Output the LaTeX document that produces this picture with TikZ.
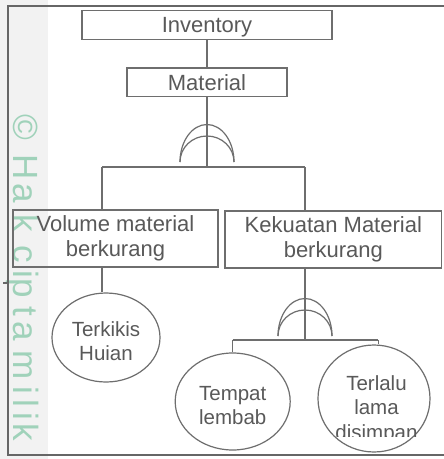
\documentclass[tikz,border=0pt]{standalone}
\usepackage{fontspec}
\setmainfont{Liberation Sans}
\usetikzlibrary{shapes.geometric}
\definecolor{linegray}{HTML}{6E6E6E}
\definecolor{textgray}{HTML}{595959}
\definecolor{framegray}{HTML}{666666}
\definecolor{stripgray}{HTML}{F2F2F2}
\definecolor{markgreen}{HTML}{A0D2BA}
\tikzset{
  conn/.style={draw=linegray, line width=1.2pt},
  box/.style={draw=linegray, line width=1.2pt, rectangle, inner sep=0pt,
    text=textgray, align=center, font=\fontsize{22}{25}\selectfont},
  oval/.style={draw=linegray, line width=1.2pt, ellipse, inner sep=0pt,
    text=textgray, align=center, font=\fontsize{20.5}{24}\selectfont},
  ovaltext/.style={inner sep=0pt, text=textgray, align=center,
    font=\fontsize{20.5}{24.5}\selectfont},
  wmark/.style={rotate=-90, anchor=base, inner sep=0pt, text=markgreen,
    font=\fontsize{35}{35}\selectfont},
  orgate/.pic={
    \draw[conn] (-27,0) .. controls (-27,-20.7) and (-14.9,-37.5) .. (0,-37.5)
                .. controls (14.9,-37.5) and (27,-20.7) .. (27,0);
    \draw[conn] (-27,0) .. controls (-27,-14.4) and (-14.9,-26) .. (0,-26)
                .. controls (14.9,-26) and (27,-14.4) .. (27,0);
  }
}
\begin{document}
\begin{tikzpicture}[x=1pt, y=-1pt]
  % page, margin strip and frame
  \useasboundingbox (0,0) rectangle (444,459);
  \fill[white] (0,0) rectangle (444,459);
  \fill[stripgray] (0,0) rectangle (48,459);
  \foreach \c/\y [count=\i] in {©/127, H/167.5, a/193.5, k/223, c/254.5,
      i/274, p/288.5, t/311, a/331.5, m/365, i/390, l/403, i/416.5, k/432.5}
    \node[wmark] (wm\i) at (13,\y) {\c};
  \draw[framegray, line width=2.4pt] (444,6) -- (8,6) -- (8,455) -- (444,455);
  \draw[framegray, line width=1.4pt] (3,283) -- (8,283);

  % events
  \node[box, text depth=0pt, minimum width=250pt, minimum height=28.6pt]
    (inv) at (207,25) {Inventory};
  \node[box, text depth=0pt, minimum width=160pt, minimum height=28.6pt]
    (mat) at (207,82.3) {Material};
  \node[box, minimum width=205pt, minimum height=57pt] (vol) at (115.5,238.5)
    {Volume material\\berkurang};
  \node[box, minimum width=216.5pt, minimum height=57pt] (kek) at (333.3,239.5)
    {Kekuatan Material\\berkurang};
  \node[oval, text height=45pt, text depth=0pt,
    minimum width=108pt, minimum height=89pt] (terk) at (106,337.5)
    {Terkikis\\Huian};
  \node[oval, text height=45pt, text depth=0pt,
    minimum width=115pt, minimum height=97pt] (temp) at (232.7,401.5)
    {Tempat\\lembab};
  \node[oval, minimum width=112pt, minimum height=107pt] (terl) at (374,398.5) {};
  \begin{scope}
    \clip (310,340) rectangle (444,436.5);
    \node[ovaltext] (terlt) at (376.5,409.6) {Terlalu\\lama\\disimpan};
  \end{scope}

  % junctions
  \coordinate (j1) at (207,167);
  \coordinate (b1l) at (102,167);
  \coordinate (b1r) at (305,167);
  \coordinate (j2) at (305,340);
  \coordinate (b2l) at (232.7,340);
  \coordinate (b2r) at (378.3,340);

  % gates
  \pic at (207,162) {orgate};
  \pic at (305,336) {orgate};

  % connectors
  \draw[conn] (inv.south) -- (mat.north);
  \draw[conn] (mat.south) -- (j1);
  \draw[conn] (b1l) -- (b1r);
  \draw[conn] (b1l) -- (b1l |- vol.north);
  \draw[conn] (b1r) -- (b1r |- kek.north);
  \draw[conn] (b1l |- vol.south) -- (b1l |- terk.north);
  \draw[conn] (j2 |- kek.south) -- (j2);
  \draw[conn] (b2l) -- (b2r);
  \draw[conn] (b2l) -- (temp.north);
  \draw[conn] (b2r) -- (b2r |- terl.north);
\end{tikzpicture}
\end{document}
